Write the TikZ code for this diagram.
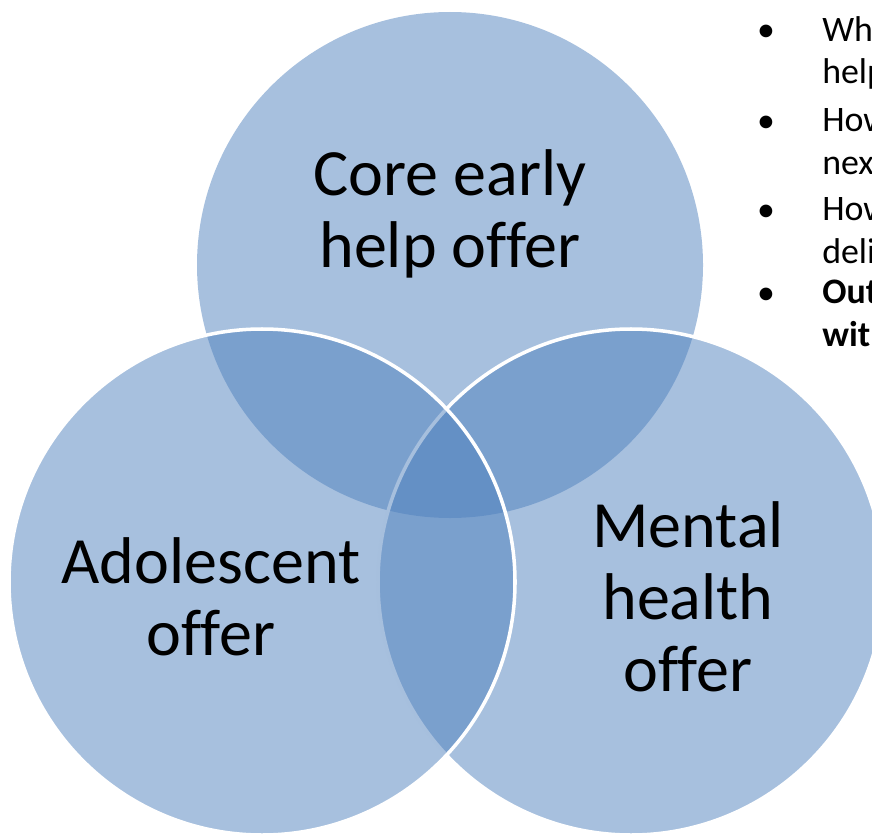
\documentclass[tikz,border=0pt]{standalone}
\usepackage{fontspec}
\setmainfont{Carlito}[Ligatures=NoCommon]
\usepackage{xcolor}
\usepackage{tikz}
\usetikzlibrary{positioning}
\definecolor{vennblue}{RGB}{79, 129, 189}

\begin{document}
\begin{tikzpicture}
    \tikzstyle{venn} = [circle, fill=vennblue, fill opacity=0.5, minimum size=12.65cm, inner sep=0pt]
    \tikzstyle{vennline} = [venn, draw=white, line width=2.5pt]
    \tikzstyle{vlabel} = [font=\fontsize{47}{51.2}\selectfont, align=center, anchor=base, inner sep=0pt]
    \tikzstyle{bdot} = [font=\fontsize{25.5}{29.9}\selectfont, anchor=base, inner sep=0pt]
    \tikzstyle{bitem} = [font=\fontsize{25.5}{29.9}\selectfont, align=left, anchor=base west, inner sep=0pt]

    \useasboundingbox (0,0) rectangle (21.8,-20.9);
    \clip (0,0) rectangle (21.8,-20.9);

    % circles: top first, then right, then left
    \node[venn] (core) at (11.25,-6.625) {};
    \node[vennline] (mental) at (15.775,-14.55) {};
    \node[vennline] (adol) at (6.55,-14.55) {};

    % labels (base = last line)
    \node[vlabel] (corelbl) at (11.25,-6.675) {Core early\\help offer};
    \node[vlabel] (adollbl) at (5.275,-16.375) {Adolescent\\offer};
    \node[vlabel] (mentallbl) at (17.2,-17.275) {Mental\\health\\offer};

    % bullet list, cut off at the right edge
    \node[bdot] (d1) at (19.15,-1.05) {\textbullet};
    \node[bitem] (q1) at (20.55,-2.1) {Wh\\help};
    \node[bdot] (d2) at (19.15,-3.3) {\textbullet};
    \node[bitem] (q2) at (20.55,-4.35) {How\\next};
    \node[bdot] (d3) at (19.15,-5.525) {\textbullet};
    \node[bitem] (q3) at (20.55,-6.575) {How\\deli};
    \node[bdot] (d4) at (19.15,-7.6) {\textbullet};
    \node[bitem, font=\fontsize{25.5}{29.9}\selectfont\bfseries] (q4) at (20.55,-8.65) {Out\\with};
\end{tikzpicture}
\end{document}
